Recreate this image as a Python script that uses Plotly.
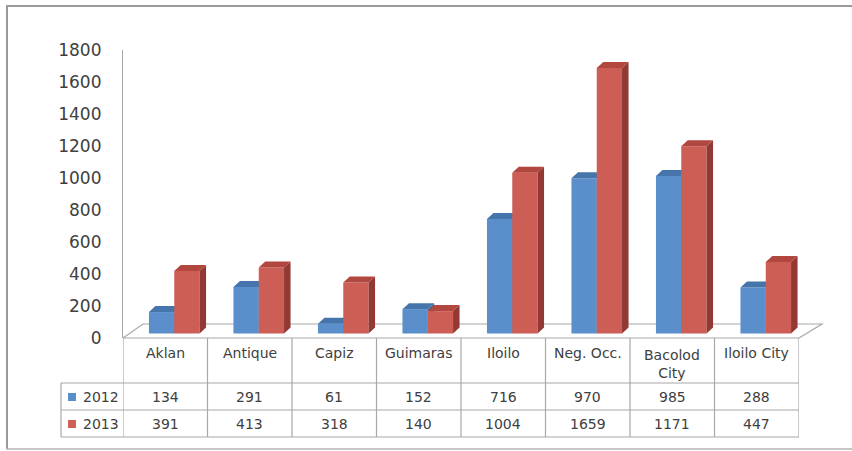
import plotly.graph_objects as go

# ---- data ----
categories = ["Aklan", "Antique", "Capiz", "Guimaras", "Iloilo", "Neg. Occ.", "Bacolod<br>City", "Iloilo City"]
series_names = ["2012", "2013"]
values_2012 = [134, 291, 61, 152, 716, 970, 985, 288]
values_2013 = [391, 413, 318, 140, 1004, 1659, 1171, 447]
y_ticks = [0, 200, 400, 600, 800, 1000, 1200, 1400, 1600, 1800]

W, H = 852, 451
def px(p):
    return p / W
def py(p):
    return 1 - p / H

X0, X1 = 123, 799          # plot area horizontal pixels
Y0, Y1 = 338, 50           # y=0 and y=1800 pixels
unit_px = (X1 - X0) / len(categories)
val_px = (Y0 - Y1) / 1800.0

bar_w = 25.3 / unit_px
shift = 9.0 / unit_px
dx = 6.5 / unit_px
dy = 6.0 / val_px
base_lift = 4.5 / val_px

BLUE = dict(front="#5A8FCB", top="#4675AC", side="#3D6697")
RED = dict(front="#CD5E56", top="#B1473F", side="#923934")

LINE = "#A8A8A8"
TXT = "#404040"
FONT = "DejaVu Sans"

idx = list(range(len(categories)))

fig = go.Figure()
# anchor trace so the visible value axis is drawn
fig.add_trace(go.Scatter(x=[None], y=[None], mode="markers", yaxis="y",
                         hoverinfo="skip", showlegend=False))

def add_series(vals, offset, col, yax):
    xs_left = [i + offset for i in idx]
    fig.add_trace(go.Bar(x=idx, y=vals, offset=offset, width=bar_w,
                         marker=dict(color=col["front"], line=dict(width=0)),
                         yaxis=yax, hoverinfo="skip", showlegend=False))
    tx, ty, sx, sy = [], [], [], []
    for xl, v in zip(xs_left, vals):
        xr = xl + bar_w
        tx += [xl, xl + dx, xr + dx, xr, xl, None]
        ty += [v, v + dy, v + dy, v, v, None]
        sx += [xr, xr, xr + dx, xr + dx, xr, None]
        sy += [0, v, v + dy, dy, 0, None]
    fig.add_trace(go.Scatter(x=sx, y=sy, mode="lines", fill="toself",
                             fillcolor=col["side"], line=dict(width=0),
                             yaxis=yax, hoverinfo="skip", showlegend=False))
    fig.add_trace(go.Scatter(x=tx, y=ty, mode="lines", fill="toself",
                             fillcolor=col["top"], line=dict(width=0),
                             yaxis=yax, hoverinfo="skip", showlegend=False))

add_series(values_2012, -bar_w + shift, BLUE, "y2")
add_series(values_2013, shift, RED, "y3")

shapes = []
# outer frame (top, left, bottom; right edge is cut off in the original)
FRAME = "#9A9A9A"
shapes.append(dict(type="line", xref="paper", yref="paper", x0=px(6), x1=1,
                   y0=py(6), y1=py(6), line=dict(color=FRAME, width=2), layer="below"))
shapes.append(dict(type="line", xref="paper", yref="paper", x0=px(7), x1=px(7),
                   y0=py(6), y1=py(449), line=dict(color=FRAME, width=2), layer="below"))
shapes.append(dict(type="line", xref="paper", yref="paper", x0=px(6), x1=1,
                   y0=py(449), y1=py(449), line=dict(color="#B4B4B4", width=1.5), layer="below"))
# floor
shapes.append(dict(type="path", xref="paper", yref="paper",
                   path=f"M {px(X0)},{py(Y0)} L {px(143)},{py(324)} L {px(822)},{py(324)} L {px(X1)},{py(Y0)}",
                   line=dict(color=LINE, width=1.2), layer="below"))
# table horizontal lines
shapes.append(dict(type="line", xref="paper", yref="paper", x0=px(X0), x1=px(X1),
                   y0=py(Y0), y1=py(Y0), line=dict(color=LINE, width=1.2)))
for yy in [383, 410, 437]:
    shapes.append(dict(type="line", xref="paper", yref="paper", x0=px(61), x1=px(X1),
                       y0=py(yy), y1=py(yy), line=dict(color=LINE, width=1.2)))
shapes.append(dict(type="line", xref="paper", yref="paper", x0=px(61), x1=px(61),
                   y0=py(383), y1=py(437), line=dict(color=LINE, width=1.2)))
for i in range(len(categories) + 1):
    shapes.append(dict(type="line", xref="x", yref="paper", x0=i - 0.5, x1=i - 0.5,
                       y0=py(Y0), y1=py(437), line=dict(color=LINE, width=1.2)))
# legend keys
for yy, col in [(397, BLUE["front"]), (424, RED["front"])]:
    shapes.append(dict(type="rect", xref="paper", yref="paper", x0=px(68), x1=px(76),
                       y0=py(yy + 4), y1=py(yy - 4), fillcolor=col, line=dict(width=0)))

annotations = []
for i, c in enumerate(categories):
    annotations.append(dict(xref="x", yref="paper", x=i, y=py(364 if "<br>" in c else 353),
                            text=c, showarrow=False, xanchor="center", yanchor="middle",
                            font=dict(family=FONT, size=14, color=TXT)))
for row_y, vals in [(397, values_2012), (424, values_2013)]:
    for i, v in enumerate(vals):
        annotations.append(dict(xref="x", yref="paper", x=i, y=py(row_y), text=str(v),
                                showarrow=False, xanchor="center", yanchor="middle",
                                font=dict(family=FONT, size=14, color=TXT)))
for row_y, name in [(397, series_names[0]), (424, series_names[1])]:
    annotations.append(dict(xref="paper", yref="paper", x=px(81), y=py(row_y), text=name,
                            showarrow=False, xanchor="left", yanchor="middle",
                            font=dict(family=FONT, size=14, color=TXT)))

ydom = [py(Y0), py(Y1)]
fig.update_layout(
    width=W, height=H,
    margin=dict(l=0, r=0, t=0, b=0, pad=0, autoexpand=False),
    paper_bgcolor="white", plot_bgcolor="rgba(0,0,0,0)",
    barmode="overlay",
    xaxis=dict(domain=[px(X0), px(X1)], range=[-0.5, len(categories) - 0.5],
               visible=False, fixedrange=True, automargin=False),
    yaxis=dict(domain=ydom, range=[0, 1800], tickvals=y_ticks, automargin=False,
               showgrid=False, zeroline=False, showline=True, linecolor=LINE, linewidth=1.2,
               ticks="", ticklabelstandoff=17,
               tickfont=dict(family=FONT, size=17, color=TXT), fixedrange=True),
    yaxis2=dict(overlaying="y", domain=ydom, range=[-base_lift, 1800 - base_lift],
                visible=False, fixedrange=True, automargin=False),
    yaxis3=dict(overlaying="y", domain=ydom, range=[-base_lift, 1800 - base_lift],
                visible=False, fixedrange=True, automargin=False),
    shapes=shapes, annotations=annotations,
    showlegend=False,
)

fig.write_html("out.html", config={"displayModeBar": False},
               post_script="document.body.style.margin='0';")
